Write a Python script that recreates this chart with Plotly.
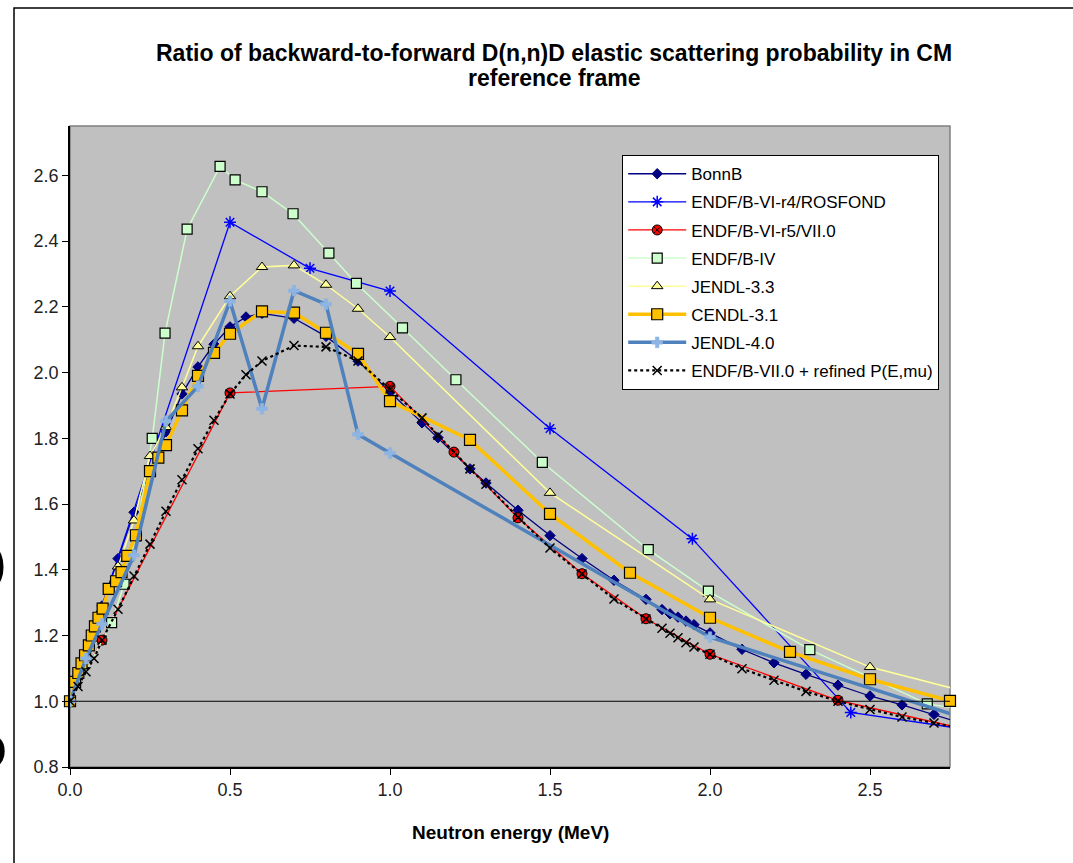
import plotly.graph_objects as go

# ---------------- data ----------------
bonn_e = [0, 0.05, 0.1, 0.15, 0.2, 0.25, 0.3, 0.35, 0.4, 0.45, 0.5, 0.55, 0.6, 0.7, 0.8, 0.9, 1.0,
          1.1, 1.15, 1.25, 1.3, 1.4, 1.5, 1.6, 1.7, 1.8, 1.85, 1.875, 1.9, 1.925, 1.95, 2.0,
          2.1, 2.2, 2.3, 2.4, 2.5, 2.6, 2.7, 2.8]
bonn_r = [1.0, 1.15, 1.29, 1.434, 1.575, 1.70, 1.82, 1.935, 2.017, 2.086, 2.139, 2.169, 2.18, 2.165,
          2.11, 2.035, 1.941, 1.847, 1.802, 1.707, 1.664, 1.581, 1.504, 1.434, 1.368, 1.31, 1.279,
          1.266, 1.256, 1.244, 1.233, 1.208, 1.158, 1.117, 1.082, 1.049, 1.016, 0.989, 0.96, 0.929]

ros_e = [0, 0.5, 0.75, 1.0, 1.5, 1.945, 2.44, 3.0]
ros_r = [1.0, 2.457, 2.317, 2.248, 1.83, 1.494, 0.966, 0.886]

r5_e = [0, 0.1, 0.5, 1.0, 1.2, 1.4, 1.6, 1.8, 2.0, 2.4, 3.0]
r5_r = [1.0, 1.186, 1.938, 1.958, 1.758, 1.558, 1.388, 1.251, 1.143, 1.003, 0.87]

b4_e = [0, 0.13, 0.169, 0.205, 0.257, 0.297, 0.366, 0.469, 0.516, 0.6, 0.697, 0.809, 0.895,
        1.039, 1.206, 1.476, 1.807, 1.995, 2.312, 2.679, 2.8]
b4_r = [1.0, 1.239, 1.356, 1.503, 1.80, 2.12, 2.436, 2.627, 2.586, 2.55, 2.483, 2.363, 2.271,
        2.136, 1.978, 1.727, 1.461, 1.335, 1.157, 0.992, 0.975]

j33_e = [0, 0.05, 0.1, 0.15, 0.2, 0.25, 0.3, 0.35, 0.4, 0.5, 0.6, 0.7, 0.8, 0.9, 1.0, 1.5, 2.0, 2.5, 3.0]
j33_r = [1.0, 1.14, 1.28, 1.41, 1.55, 1.746, 1.834, 1.955, 2.08, 2.232, 2.321, 2.326, 2.267,
         2.194, 2.108, 1.634, 1.31, 1.104, 0.979]

cendl_e = [0, 0.016, 0.026, 0.036, 0.047, 0.059, 0.068, 0.078, 0.089, 0.102, 0.121, 0.144, 0.161,
           0.179, 0.206, 0.25, 0.276, 0.3, 0.35, 0.4, 0.45, 0.5, 0.6, 0.7, 0.8, 0.9, 1.0,
           1.25, 1.5, 1.75, 2.0, 2.25, 2.5, 2.75]
cendl_r = [1.0, 1.059, 1.086, 1.115, 1.14, 1.17, 1.20, 1.228, 1.254, 1.282, 1.342, 1.365, 1.393,
           1.442, 1.505, 1.70, 1.741, 1.779, 1.885, 1.99, 2.06, 2.118, 2.186, 2.182, 2.121, 2.057,
           1.913, 1.795, 1.57, 1.391, 1.254, 1.15, 1.067, 1.001]

j40_e = [0, 0.05, 0.1, 0.2, 0.3, 0.4, 0.5, 0.6, 0.7, 0.8, 0.9, 1.0, 2.0, 3.0]
j40_r = [1.0, 1.13, 1.235, 1.444, 1.852, 1.958, 2.217, 1.89, 2.249, 2.208, 1.812, 1.755, 1.195, 0.885]

ref_e = [0, 0.025, 0.05, 0.075, 0.1, 0.15, 0.2, 0.25, 0.3, 0.35, 0.4, 0.45, 0.5, 0.55, 0.6, 0.7,
         0.8, 0.9, 1.0, 1.1, 1.15, 1.25, 1.3, 1.4, 1.5, 1.6, 1.7, 1.8, 1.85, 1.875, 1.9, 1.925,
         1.95, 2.0, 2.1, 2.2, 2.3, 2.4, 2.5, 2.6, 2.7, 2.8]
ref_r = [1.0, 1.045, 1.09, 1.13, 1.186, 1.28, 1.381, 1.478, 1.578, 1.674, 1.768, 1.855, 1.935,
         1.993, 2.035, 2.082, 2.078, 2.035, 1.95, 1.862, 1.809, 1.707, 1.66, 1.56, 1.466, 1.387,
         1.311, 1.25, 1.222, 1.207, 1.193, 1.178, 1.165, 1.143, 1.099, 1.064, 1.03, 1.0, 0.975,
         0.952, 0.934, 0.914]

x_ticks = [0.0, 0.5, 1.0, 1.5, 2.0, 2.5]
y_ticks = [0.8, 1.0, 1.2, 1.4, 1.6, 1.8, 2.0, 2.2, 2.4, 2.6]

title_line1 = "Ratio of backward-to-forward D(n,n)D elastic scattering probability in CM"
title_line2 = "reference frame"
x_title = "Neutron energy (MeV)"

FONT = "Liberation Sans, Arial, sans-serif"

# ---------------- figure ----------------
fig = go.Figure()

def add(name, x, y, lcolor, lwidth, symbol, msize, mcolor, mline, mlw, dash="solid", clip=True):
    fig.add_trace(go.Scatter(
        x=x, y=y, name=name, mode="lines+markers", legendgroup=name,
        line=dict(color=lcolor, width=lwidth, dash=dash),
        marker=dict(symbol=symbol, size=msize, color=mcolor, line=dict(color=mline, width=mlw)),
        cliponaxis=clip,
    ))

add("BonnB", bonn_e, bonn_r, "#000080", 1.3, "diamond", 8, "#000080", "#000080", 1)
add("ENDF/B-VI-r4/ROSFOND", ros_e, ros_r, "#0000FF", 1.3, "asterisk-open", 10, "#0000FF", "#0000FF", 1.5)
add("ENDF/B-VI-r5/VII.0", r5_e, r5_r, "#FF0000", 1.3, "circle-x", 10, "#FF0000", "#000000", 1)
add("ENDF/B-IV", b4_e, b4_r, "#CCFFCC", 1.5, "square", 10, "#CCFFCC", "#000000", 1.2)
add("JENDL-3.3", j33_e, j33_r, "#FFFF99", 1.5, "triangle-up", 10, "#FFFF99", "#000000", 1)
add("CENDL-3.1", cendl_e, cendl_r, "#FFC000", 3.5, "square", 11, "#FFC000", "#000000", 1.2, clip=False)
add("JENDL-4.0", j40_e, j40_r, "#4F81BD", 3.5, "cross", 9, "#8DB4E2", "#8DB4E2", 0.5)
add("ENDF/B-VII.0 + refined P(E,mu)", ref_e, ref_r, "#000000", 2.2, "x-thin-open", 9, "#000000", "#000000", 1.5, dash="dot")

L, R, T, B = 70, 123, 126, 96
PW, PH = 1073 - L - R, 863 - T - B

def px(xp):
    return (xp - L) / PW

def py(yp):
    return (863 - B - yp) / PH

fig.update_layout(
    width=1073, height=863,
    margin=dict(l=L, r=R, t=T, b=B),
    paper_bgcolor="white", plot_bgcolor="#C0C0C0",
    font=dict(family=FONT, color="#000000"),
    showlegend=True,
    legend=dict(x=px(622), y=py(155), xanchor="left", yanchor="top",
                bgcolor="white", bordercolor="#000000", borderwidth=1.2,
                font=dict(size=17, family=FONT, color="#000000"),
                itemwidth=58, tracegroupgap=3),
    xaxis=dict(range=[0, 2.75], tickvals=x_ticks, ticktext=[f"{v:.1f}" for v in x_ticks],
               showgrid=False, zeroline=False, showline=True, linecolor="#000000", linewidth=1.5,
               ticks="outside", ticklen=6, tickcolor="#000000",
               tickfont=dict(size=18, color="#222222")),
    yaxis=dict(range=[0.8, 2.75], tickvals=y_ticks, ticktext=[f"{v:.1f}" for v in y_ticks],
               showgrid=False, zeroline=False, showline=True, linecolor="#000000", linewidth=1.5,
               ticks="outside", ticklen=6, tickcolor="#000000",
               tickfont=dict(size=18, color="#222222")),
)

shapes = [
    dict(type="rect", xref="paper", yref="paper", x0=0, y0=0, x1=1, y1=1,
         line=dict(color="#808080", width=1.5), layer="below"),
    dict(type="line", xref="paper", yref="y", x0=0, x1=1, y0=1.0, y1=1.0,
         line=dict(color="#000000", width=1.2), layer="above"),
    dict(type="rect", xref="paper", yref="paper", x0=px(14), y0=py(880), x1=px(1090), y1=py(8),
         line=dict(color="#000000", width=1.5)),
]
fig.update_layout(shapes=shapes)

# title (two lines placed explicitly)
fig.add_annotation(text=f"<b>{title_line1}</b>", xref="paper", yref="paper", x=px(554), y=py(53),
                   xanchor="center", yanchor="middle", showarrow=False,
                   font=dict(size=23, family=FONT, color="#000000"))
fig.add_annotation(text=f"<b>{title_line2}</b>", xref="paper", yref="paper", x=px(554), y=py(78),
                   xanchor="center", yanchor="middle", showarrow=False,
                   font=dict(size=23, family=FONT, color="#000000"))
# x-axis title
fig.add_annotation(text=f"<b>{x_title}</b>", xref="paper", yref="paper", x=px(510), y=py(832),
                   xanchor="center", yanchor="middle", showarrow=False,
                   font=dict(size=19, family=FONT, color="#000000"))

fig.add_annotation(text=")", xref="paper", yref="paper", x=px(9), y=py(563), xanchor="right",
                   yanchor="middle", showarrow=False,
                   font=dict(size=50, family=FONT, color="#000000"))
fig.add_annotation(text="D", xref="paper", yref="paper", x=px(9), y=py(752), xanchor="right",
                   yanchor="middle", showarrow=False,
                   font=dict(size=50, family=FONT, color="#000000"))

fig.write_html("out.html")
